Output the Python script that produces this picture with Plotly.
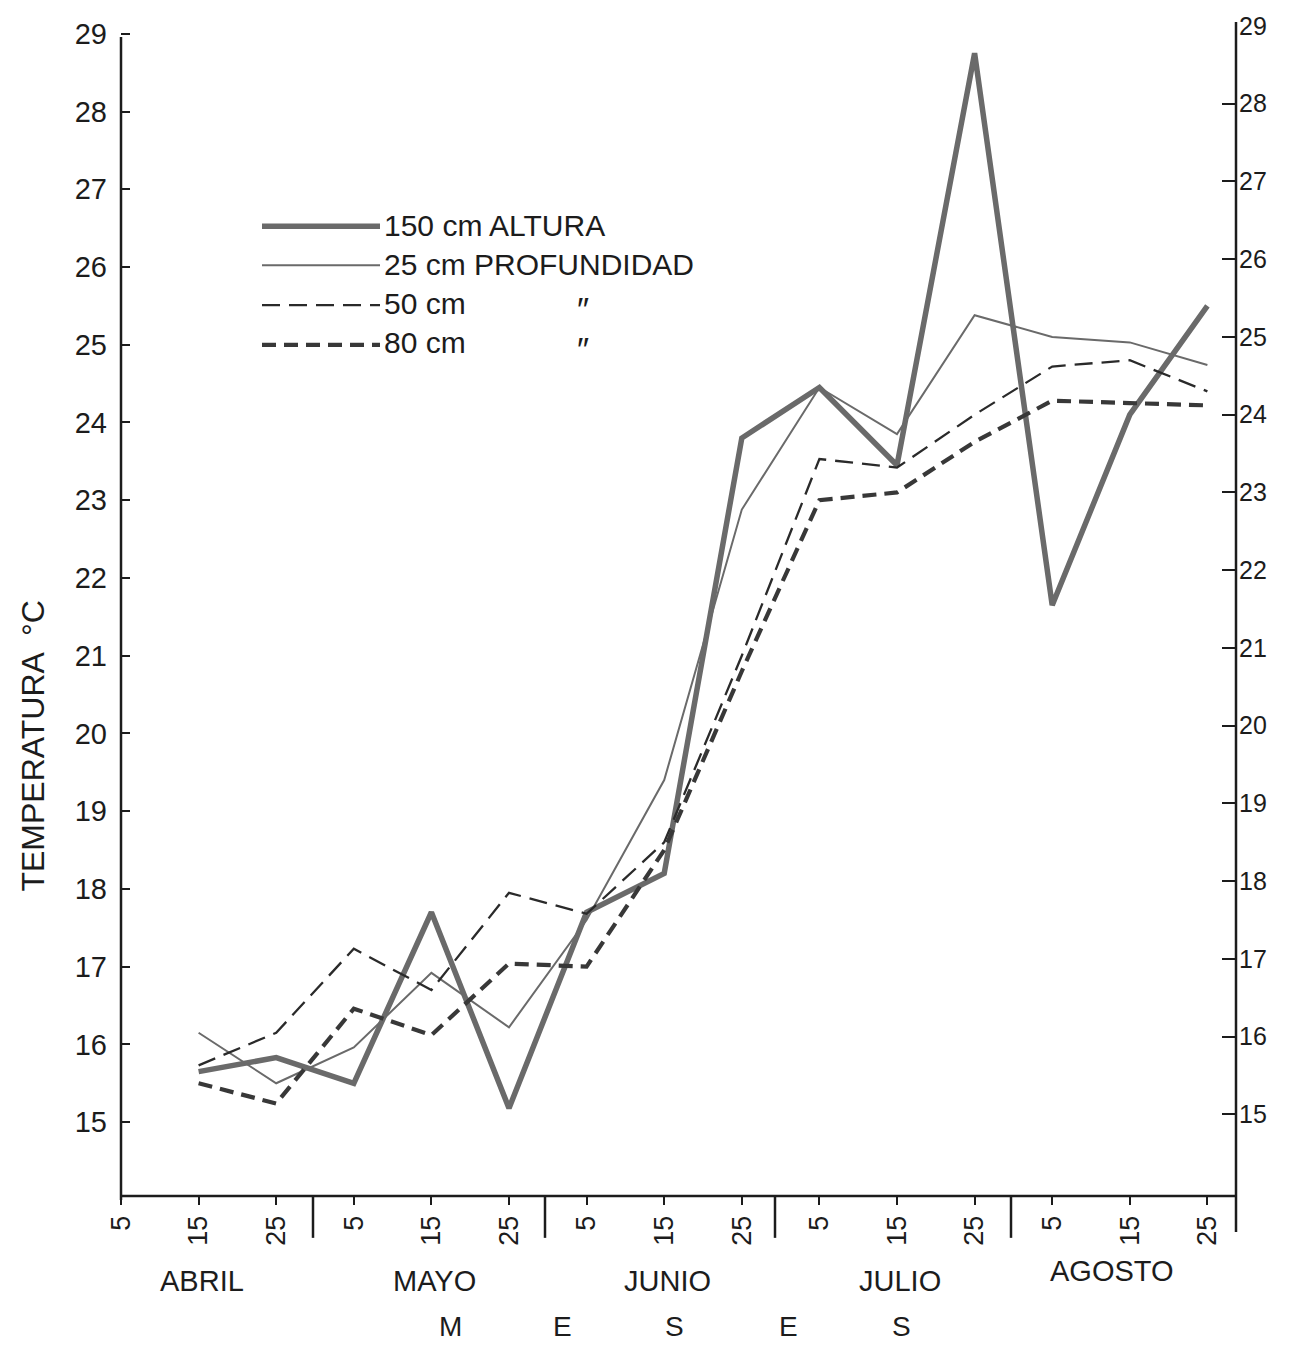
import plotly.graph_objects as go

# ---------------- data ----------------
meses = ["ABRIL", "MAYO", "JUNIO", "JULIO", "AGOSTO"]
dias_tick = ["5", "15", "25"]
tick_labels = [d for _ in meses for d in dias_tick]          # 15 ticks: 5 Apr .. 25 Aug
# measurement dates: 15 Apr .. 25 Aug (index into tick_labels)
fechas_idx = list(range(1, 15))

altura_150 = [15.65, 15.83, 15.50, 17.70, 15.18, 17.70, 18.20, 23.80, 24.45, 23.45, 28.75, 21.65, 24.10, 25.50]
prof_25 = [16.15, 15.50, 15.96, 16.92, 16.22, 17.60, 19.40, 22.88, 24.45, 23.85, 25.38, 25.10, 25.03, 24.74]
prof_50 = [15.73, 16.15, 17.23, 16.70, 17.95, 17.68, 18.60, 21.00, 23.53, 23.42, 24.10, 24.72, 24.80, 24.40]
prof_80 = [15.50, 15.24, 16.46, 16.12, 17.04, 17.00, 18.50, 20.80, 23.00, 23.10, 23.75, 24.28, 24.25, 24.22]

y_ticks = list(range(15, 30))

series_names = ["150 cm ALTURA", "25 cm PROFUNDIDAD", "50 cm", "80 cm"]

# ---------------- layout geometry ----------------
W, H = 1291, 1352
L, R, T, B = 121, 1236, 22, 1196
def px(x):
    return (x - L) / (R - L)
def py(y):
    return (B - y) / (B - T)

FONT = "Liberation Sans, Arial, DejaVu Sans"
INK = "#1c1c1c"

styles = [
    dict(color="#6a6a6a", width=5.5, dash="solid"),
    dict(color="#6a6a6a", width=2.0, dash="solid"),
    dict(color="#2a2a2a", width=2.3, dash="18px,9px"),
    dict(color="#383838", width=4.2, dash="14px,8px"),
]
data_series = [altura_150, prof_25, prof_50, prof_80]

fig = go.Figure()
for name, vals, st in zip(series_names, data_series, styles):
    fig.add_trace(go.Scatter(
        x=fechas_idx, y=vals, mode="lines", name=name,
        line=dict(color=st["color"], width=st["width"], dash=st["dash"]),
        showlegend=False, hoverinfo="skip"))

# invisible trace so the right-hand axis is rendered
fig.add_trace(go.Scatter(x=fechas_idx, y=prof_80, yaxis="y2", mode="lines",
                         opacity=0, showlegend=False, hoverinfo="skip"))

yrange = [14.05, 29.1]

shapes = []
def seg(x0, y0, x1, y1, color=INK, width=2, dash="solid"):
    shapes.append(dict(type="line", xref="paper", yref="paper",
                       x0=px(x0), y0=py(y0), x1=px(x1), y1=py(y1),
                       line=dict(color=color, width=width, dash=dash)))

# axes frame (hand-drawn look)
seg(L, 33, L, 1200, width=2.5)
seg(L, B, R, B, width=2.5)
seg(R, 18, R, 1232, width=2.5)
for xs in [313, 545, 775, 1011]:
    seg(xs, B, xs, 1238, width=2.5)

# legend samples
leg_y = [223, 262, 302, 342]
for yy, st in zip(leg_y, styles):
    seg(262, yy, 380, yy, color=st["color"], width=st["width"], dash=st["dash"])

annotations = []
for yy, name in zip([222, 261, 300, 340], series_names):
    annotations.append(dict(xref="paper", yref="paper", x=px(382), y=py(yy),
                            xanchor="left", yanchor="middle", showarrow=False,
                            text=name, font=dict(family=FONT, size=30, color=INK)))
for yy in [306, 346]:
    annotations.append(dict(xref="paper", yref="paper", x=px(583), y=py(yy),
                            xanchor="center", yanchor="middle", showarrow=False,
                            text="\u2033", font=dict(family=FONT, size=34, color=INK)))

# month labels centred on the 15th of each month
for i, m in enumerate(meses):
    annotations.append(dict(xref="x", yref="paper", x=3 * i + 1, y=py(1281),
                            xanchor="center", yanchor="middle", showarrow=False,
                            xshift=(-18 if m == "AGOSTO" else 3),
                            yshift=(10 if m == "AGOSTO" else 0),
                            text=m, font=dict(family=FONT, size=29, color=INK)))

# axis title M E S E S
for xx, ch in zip([450, 562, 674, 788, 901], "MESES"):
    annotations.append(dict(xref="paper", yref="paper", x=px(xx), y=py(1327),
                            xanchor="center", yanchor="middle", showarrow=False,
                            text=ch, font=dict(family=FONT, size=28, color=INK)))

# y axis title
annotations.append(dict(xref="paper", yref="paper", x=px(33), y=py(745),
                        xanchor="center", yanchor="middle", showarrow=False,
                        textangle=-90, text="TEMPERATURA  °C",
                        font=dict(family=FONT, size=32, color=INK)))

fig.update_layout(
    width=W, height=H,
    margin=dict(l=L, r=W - R, t=T, b=H - B),
    paper_bgcolor="white", plot_bgcolor="white",
    showlegend=False,
    xaxis=dict(range=[0, (R - L) / 77.6], tickmode="array",
               tickvals=list(range(len(tick_labels))), ticktext=tick_labels,
               tickangle=-90, ticks="outside", ticklen=8, tickwidth=2, tickcolor=INK,
               showline=False, showgrid=False, zeroline=False,
               tickfont=dict(family=FONT, size=27, color=INK)),
    yaxis=dict(range=yrange, tickmode="array", tickvals=y_ticks,
               ticktext=[str(v) for v in y_ticks],
               ticks="inside", ticklen=9, tickwidth=2, tickcolor=INK,
               ticklabelstandoff=13,
               showline=False, showgrid=False, zeroline=False,
               tickfont=dict(family=FONT, size=29, color=INK)),
    yaxis2=dict(range=[yrange[0] - 0.1, yrange[1] - 0.1], overlaying="y", side="right",
                tickmode="array", tickvals=y_ticks, ticktext=[str(v) for v in y_ticks],
                ticks="inside", ticklen=14, tickwidth=2, tickcolor=INK,
                ticklabelstandoff=2,
                showline=False, showgrid=False, zeroline=False,
                tickfont=dict(family=FONT, size=25, color=INK)),
    shapes=shapes, annotations=annotations,
)

fig.write_html("out.html")
